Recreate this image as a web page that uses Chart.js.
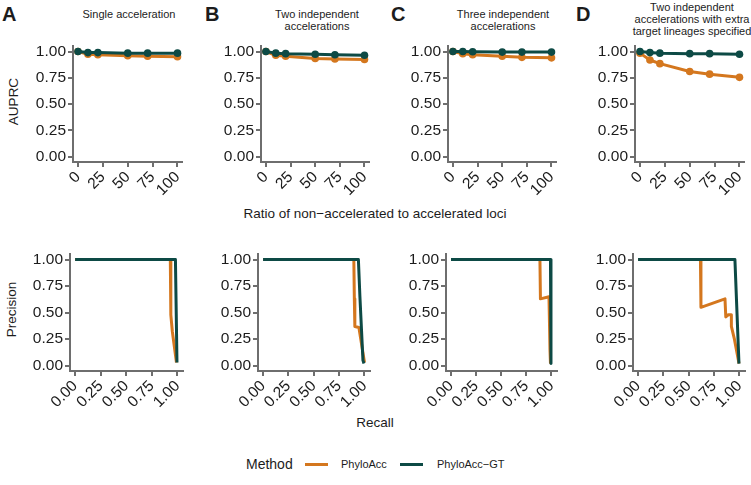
<!DOCTYPE html>
<html>
<head>
<meta charset="utf-8">
<script src="https://cdn.jsdelivr.net/npm/chart.js@4"></script>
<style>
  body { margin: 0; background: #fff; font-family: "Liberation Sans", Arial, sans-serif; color: #1c1c1c; }
  #page { position: relative; width: 751px; height: 485px; overflow: hidden; }
  canvas { position: absolute; }
  .txt { position: absolute; white-space: nowrap; }
  .letter { font-weight: bold; font-size: 20px; }
  .title { font-size: 11px; line-height: 12px; text-align: center; transform: translateX(-50%); }
  .axtitle { font-size: 13.5px; }
  .sw { position: absolute; height: 3px; width: 23px; }
</style>
</head>
<body>
<div id="page">
  <div class="txt letter" style="left:2px;top:3px">A</div>
  <div class="txt letter" style="left:205px;top:3px">B</div>
  <div class="txt letter" style="left:391px;top:3px">C</div>
  <div class="txt letter" style="left:576px;top:3px">D</div>

  <div class="txt title" style="left:129px;top:8px">Single acceleration</div>
  <div class="txt title" style="left:317px;top:8px">Two independent<br>accelerations</div>
  <div class="txt title" style="left:503px;top:8px">Three independent<br>accelerations</div>
  <div class="txt title" style="left:692px;top:1px">Two independent<br>accelerations with extra<br>target lineages specified</div>

  <div class="txt axtitle" style="left:-10px;top:94px;transform:rotate(-90deg)">AUPRC</div>
  <div class="txt axtitle" style="left:-16px;top:302px;transform:rotate(-90deg)">Precision</div>
  <div class="txt axtitle" style="left:375px;top:206px;transform:translateX(-50%)">Ratio of non&minus;accelerated to accelerated loci</div>
  <div class="txt axtitle" style="left:375px;top:415px;transform:translateX(-50%)">Recall</div>

  <div class="txt" style="left:246px;top:456px;font-size:14px">Method</div>
  <div class="sw" style="left:305px;top:463px;background:#D4771E"></div>
  <div class="txt" style="left:341px;top:458px;font-size:11px">PhyloAcc</div>
  <div class="sw" style="left:400px;top:463px;background:#0D4A45"></div>
  <div class="txt" style="left:437px;top:458px;font-size:11px">PhyloAcc&minus;GT</div>
</div>
<script>
// AUPRC vs ratio of non-accelerated to accelerated loci
const ratioLoci = [0, 10, 20, 50, 70, 100];
const ratioTicks = [0, 25, 50, 75, 100];
const unitTicks = [0, 0.25, 0.5, 0.75, 1];

const auprcAccA = [1.0, 0.975, 0.97, 0.96, 0.955, 0.95];
const auprcGtA  = [1.0, 0.99, 0.99, 0.985, 0.985, 0.985];
const auprcAccB = [1.0, 0.965, 0.955, 0.935, 0.93, 0.925];
const auprcGtB  = [1.0, 0.985, 0.98, 0.975, 0.97, 0.965];
const auprcAccC = [1.0, 0.98, 0.97, 0.955, 0.945, 0.94];
const auprcGtC  = [1.0, 1.0, 0.998, 0.995, 0.995, 0.995];
const auprcAccD = [0.985, 0.92, 0.885, 0.81, 0.785, 0.755];
const auprcGtD  = [1.0, 0.99, 0.985, 0.98, 0.98, 0.975];

// precision-recall curves
const recallAccA    = [0, 0.93, 0.935, 0.95, 0.99];
const precisionAccA = [1, 1, 0.48, 0.32, 0.03];
const recallGtA     = [0, 0.98, 0.995];
const precisionGtA  = [1, 1, 0.03];

const recallAccB    = [0, 0.895, 0.9, 0.905, 0.945, 1.0];
const precisionAccB = [1, 1, 0.63, 0.37, 0.36, 0.03];
const recallGtB     = [0, 0.94, 0.955, 0.985, 0.995];
const precisionGtB  = [1, 1, 0.65, 0.05, 0.02];

const recallAccC    = [0, 0.885, 0.89, 0.975, 0.985, 0.99];
const precisionAccC = [1, 1, 0.63, 0.65, 0.15, 0.02];
const recallGtC     = [0, 0.99, 0.995];
const precisionGtC  = [1, 1, 0.02];

const recallAccD    = [0, 0.615, 0.62, 0.857, 0.865, 0.89, 0.92, 0.92, 0.95, 0.995];
const precisionAccD = [1, 1, 0.55, 0.63, 0.46, 0.48, 0.48, 0.37, 0.25, 0.02];
const recallGtD     = [0, 0.955, 0.995];
const precisionGtD  = [1, 1, 0.02];

const ORANGE = '#D4771E'
const GREEN = '#0D4A45'
const AXIS = '#6e6e6e'
const PADL = 62, PADT = 8, PADR = 8, PADB = 44

function pts(xs, ys) {
    return xs.map((x, i) => ({ x: x, y: ys[i] }))
}

function makePanel(box, xMin, xMax, xTicks, xFmt, gt, acc, withPoints) {
    const cv = document.createElement('canvas')
    const w = box.r - box.l + PADL + PADR
    const h = box.b - box.t + PADT + PADB
    cv.width = Math.round(w)
    cv.height = Math.round(h)
    cv.style.left = (box.l - PADL) + 'px'
    cv.style.top = (box.t - PADT) + 'px'
    document.getElementById('page').appendChild(cv)

    const ds = (data, color) => ({
        data: data,
        borderColor: color,
        backgroundColor: color,
        borderWidth: 3,
        borderJoinStyle: 'round',
        pointRadius: withPoints ? 3.8 : 0,
        pointBorderWidth: 0,
        tension: 0
    })
    const tickFont = { family: '"Liberation Sans", Arial, sans-serif', size: 15.5 }

    new Chart(cv.getContext('2d'), {
        type: 'line',
        data: { datasets: [ds(gt, GREEN), ds(acc, ORANGE)] },
        options: {
            responsive: false,
            animation: false,
            events: [],
            layout: { padding: { top: PADT, right: PADR, left: 0, bottom: 0 } },
            plugins: { legend: { display: false }, tooltip: { enabled: false } },
            scales: {
                x: {
                    type: 'linear', min: xMin, max: xMax,
                    afterBuildTicks: s => { s.ticks = xTicks.map(v => ({ value: v })) },
                    afterFit: s => { s.height = PADB },
                    grid: { drawOnChartArea: false, drawTicks: true, tickLength: 5, color: AXIS, lineWidth: 2 },
                    border: { display: true, color: AXIS, width: 2 },
                    ticks: { autoSkip: false, minRotation: 45, maxRotation: 45, padding: 1, color: '#1c1c1c',
                             font: tickFont, callback: v => xFmt(v) }
                },
                y: {
                    type: 'linear', min: -0.05, max: 1.05,
                    afterBuildTicks: s => { s.ticks = unitTicks.map(v => ({ value: v })) },
                    afterFit: s => { s.width = PADL },
                    grid: { drawOnChartArea: false, drawTicks: true, tickLength: 5, color: AXIS, lineWidth: 2 },
                    border: { display: true, color: AXIS, width: 2 },
                    ticks: { autoSkip: false, padding: 2, color: '#1c1c1c', font: tickFont, callback: v => v.toFixed(2) }
                }
            }
        }
    })
}

const topBoxes = [
    { l: 73, r: 184, t: 42.6, b: 161.4 },
    { l: 261, r: 371, t: 42.6, b: 161.4 },
    { l: 448.3, r: 558.3, t: 42.6, b: 161.4 },
    { l: 634.5, r: 745, t: 42.6, b: 161.4 }
]
const bottomBoxes = [
    { l: 70.1, r: 183.9, t: 251.2, b: 371.2 },
    { l: 257.5, r: 370.8, t: 251.2, b: 371.2 },
    { l: 446, r: 557.8, t: 251.2, b: 371.2 },
    { l: 632.6, r: 745.4, t: 251.2, b: 371.2 }
]

const auprcGt = [auprcGtA, auprcGtB, auprcGtC, auprcGtD]
const auprcAcc = [auprcAccA, auprcAccB, auprcAccC, auprcAccD]
const prGt = [[recallGtA, precisionGtA], [recallGtB, precisionGtB], [recallGtC, precisionGtC], [recallGtD, precisionGtD]]
const prAcc = [[recallAccA, precisionAccA], [recallAccB, precisionAccB], [recallAccC, precisionAccC], [recallAccD, precisionAccD]]

for (let i = 0; i < 4; i++) {
    makePanel(topBoxes[i], -5, 105, ratioTicks, v => String(v),
        pts(ratioLoci, auprcGt[i]), pts(ratioLoci, auprcAcc[i]), true)
    makePanel(bottomBoxes[i], -0.05, 1.05, unitTicks, v => v.toFixed(2),
        pts(prGt[i][0], prGt[i][1]), pts(prAcc[i][0], prAcc[i][1]), false)
}
</script>
</body>
</html>
